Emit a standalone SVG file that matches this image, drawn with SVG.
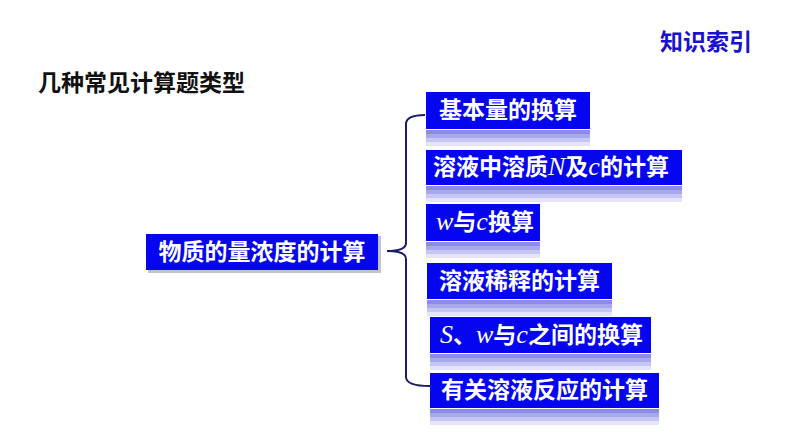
<svg xmlns="http://www.w3.org/2000/svg" width="794" height="447" viewBox="0 0 794 447">
<defs>
<g id="reflband">
<rect x="0" y="0" width="1" height="4" fill="#8c8ce4"/>
<rect x="0" y="4" width="1" height="4" fill="#a8a8ec"/>
<rect x="0" y="8" width="1" height="4" fill="#c6c6f3"/>
<rect x="0" y="12" width="1" height="4" fill="#e4e4fa"/>
</g>
</defs>
<style>
.box{fill:#0505f0;}
.shadow{fill:#9a9aa8;opacity:0.6;}
.t{font-family:"Noto Sans CJK SC","Noto Sans",sans-serif;font-weight:bold;font-size:23px;fill:#ffffff;}
.i{font-family:"Liberation Serif",serif;font-style:italic;font-weight:normal;font-size:26px;}
.title{font-family:"Noto Sans CJK SC",sans-serif;font-weight:bold;font-size:23px;fill:#111111;}
.head{font-family:"Noto Sans CJK SC",sans-serif;font-weight:bold;font-size:23px;fill:#1a10d0;}
.brace{fill:none;stroke:#1c1c6a;stroke-width:2;}
</style>
<rect width="794" height="447" fill="#ffffff"/>
<text class="head" x="660" y="50">知识索引</text>
<text class="title" x="38" y="91">几种常见计算题类型</text>
<g id="connectors">
<path class="brace" d="M425 115 Q406 115 406 124 L406 243 Q406 251 387 251 Q406 251 406 259 L406 377 Q406 386 430 386"/>
</g>
<g id="main">
<rect class="shadow" x="148" y="236" width="233" height="37"/>
<rect class="box" x="146" y="234" width="232" height="36"/>
<text class="t" x="262" y="260" text-anchor="middle">物质的量浓度的计算</text>
</g>
<g id="n1">
<use href="#reflband" transform="translate(426 130) scale(164 1)"/>
<rect class="box" x="426" y="92" width="164" height="37"/>
<text class="t" x="508" y="118" text-anchor="middle">基本量的换算</text>
</g>
<g id="n2">
<use href="#reflband" transform="translate(426 186) scale(256 1)"/>
<rect class="box" x="426" y="150" width="256" height="35"/>
<text class="t" x="433" y="175">溶液中溶质<tspan class="i">N</tspan>及<tspan class="i">c</tspan>的计算</text>
</g>
<g id="n3">
<use href="#reflband" transform="translate(426 242) scale(114 1)"/>
<rect class="box" x="426" y="204" width="114" height="37"/>
<text class="t" x="436" y="230"><tspan class="i">w</tspan>与<tspan class="i">c</tspan>换算</text>
</g>
<g id="n4">
<use href="#reflband" transform="translate(427 300) scale(185 1)"/>
<rect class="box" x="427" y="263" width="185" height="36"/>
<text class="t" x="519.5" y="289" text-anchor="middle">溶液稀释的计算</text>
</g>
<g id="n5">
<use href="#reflband" transform="translate(430 354) scale(221 1)"/>
<rect class="box" x="430" y="317" width="221" height="36"/>
<text class="t" x="440" y="343"><tspan class="i">S</tspan>、<tspan class="i">w</tspan>与<tspan class="i">c</tspan>之间的换算</text>
</g>
<g id="n6">
<use href="#reflband" transform="translate(430 409) scale(229 1)"/>
<rect class="box" x="430" y="373" width="229" height="35"/>
<text class="t" x="544.5" y="398" text-anchor="middle">有关溶液反应的计算</text>
</g>
</svg>
